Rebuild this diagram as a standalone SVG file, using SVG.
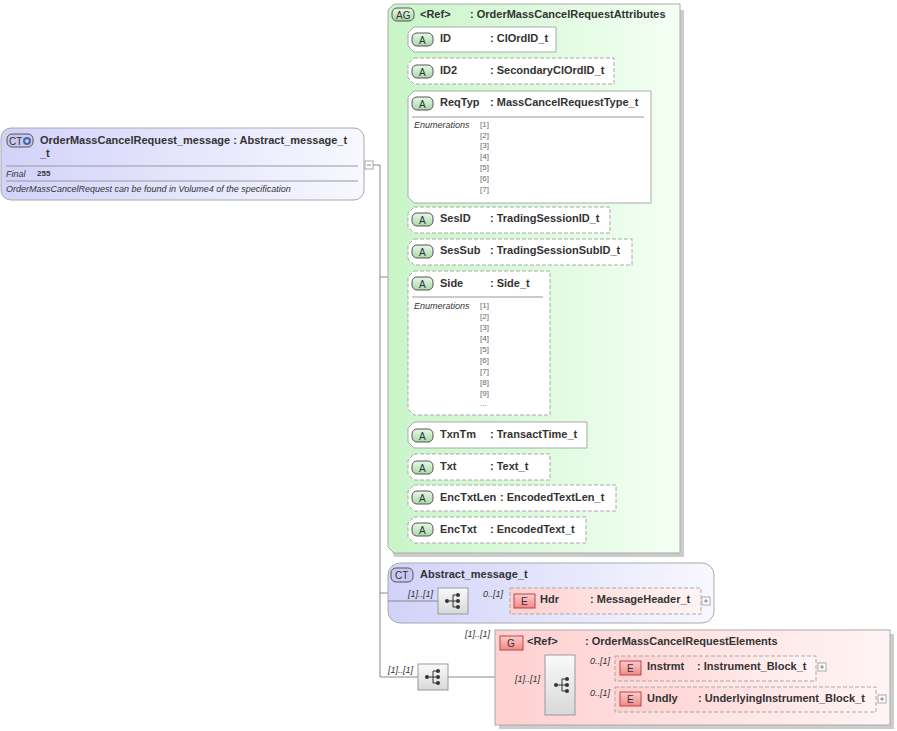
<svg xmlns="http://www.w3.org/2000/svg" width="897" height="731" viewBox="0 0 897 731">
<defs>
<linearGradient id="gG" x1="0" y1="0" x2="1" y2="0"><stop offset="0" stop-color="#c8f5c8"/><stop offset="1" stop-color="#f4fff4"/></linearGradient>
<linearGradient id="gB" x1="0" y1="0" x2="1" y2="0"><stop offset="0" stop-color="#d2d2fa"/><stop offset="1" stop-color="#f8f8ff"/></linearGradient>
<linearGradient id="gR" x1="0" y1="0" x2="1" y2="0"><stop offset="0" stop-color="#ffd0d0"/><stop offset="1" stop-color="#fff4f4"/></linearGradient>
<linearGradient id="gS" x1="0" y1="0" x2="0" y2="1"><stop offset="0" stop-color="#fafafa"/><stop offset="1" stop-color="#d8d8d8"/></linearGradient>
<linearGradient id="gA" x1="0" y1="0" x2="0" y2="1"><stop offset="0" stop-color="#e8f8e8"/><stop offset="1" stop-color="#a8d8a8"/></linearGradient>
<linearGradient id="gE" x1="0" y1="0" x2="0" y2="1"><stop offset="0" stop-color="#ffcccc"/><stop offset="1" stop-color="#f08888"/></linearGradient>
<g id="icon"><circle cx="9" cy="13" r="2" fill="#333"/><path d="M11 13H15M15 7V19M15 7H19M15 13H19M15 19H19" stroke="#333" fill="none"/><circle cx="20" cy="7" r="2" fill="#333"/><circle cx="20" cy="13" r="2" fill="#333"/><circle cx="20" cy="19" r="2" fill="#333"/></g>
<g id="seq"><rect x="0" y="0" width="30" height="26" fill="url(#gS)" stroke="#999"/><use href="#icon"/></g>
<g id="plus"><rect x="0" y="0" width="8" height="8" fill="#fff" stroke="#aaa"/><path d="M2 4H6M4 2V6" stroke="#888"/></g>
</defs>
<style>
text{font-family:"Liberation Sans",Arial,sans-serif;font-size:11px;fill:#333}
.b{font-weight:bold}
.i{font-style:italic;font-size:9px}
.e{font-size:8px;fill:#666}
.c{fill:none;stroke:#888;stroke-width:1}
.at{fill:#fff;stroke:#aaa}
.d{stroke-dasharray:4,2}
.ab{fill:url(#gA);stroke:#555}
.eb{fill:url(#gE);stroke:#b44}
.bl{font-size:10px;fill:#333}
</style>
<g id="connectors">
<path class="c" d="M373 165H380V677M380 277H388M380 593H438M380 677H418M447 677H545M468 601H510M575 668H615M575 700H615"/>
<path class="c" d="M398 39V529M398 39H408M398 71H408M398 147H408M398 219H408M398 251H408M398 343H408M398 435H408M398 467H408M398 497H408M398 529H408"/>
</g>
<g id="main">
<rect x="1" y="128" width="363" height="72" rx="10" fill="url(#gB)" stroke="#aaa"/>
<rect x="7" y="134" width="26" height="13" rx="5" fill="#c8c8f0" stroke="#555"/>
<text x="9" y="145" class="bl">CT</text><circle cx="27" cy="141" r="4" fill="#4a6ab0"/><path d="M25 141H29M27 139V143" stroke="#fff"/>
<text x="40" y="144" class="b">OrderMassCancelRequest_message : Abstract_message_t</text>
<text x="40" y="157" class="b">_t</text>
<path d="M6 166H358M6 181H358" stroke="#999"/>
<text x="6" y="177" class="i">Final</text><text x="37" y="176" class="b" style="font-size:8px">255</text>
<text x="6" y="192" class="i">OrderMassCancelRequest can be found in Volume4 of the specification</text>
<rect x="365" y="161" width="8" height="8" fill="#fff" stroke="#aaa"/><path d="M367 165H371" stroke="#888"/>
</g>
<g id="attrGroup">
<path d="M394 10H684V557H394L392 551V16Z" fill="#ccc"/>
<path d="M394 4H680V553H394L388 547V10Z" fill="url(#gG)" stroke="#aaa"/>
<rect x="392" y="8" width="22" height="13" rx="5" class="ab"/><text x="396" y="19" class="bl">AG</text>
<text x="420" y="18" class="b">&lt;Ref&gt;</text><text x="470" y="18" class="b">: OrderMassCancelRequestAttributes</text>
</g>
<g id="a-ID"><path class="at" d="M414 27H556V52H414L408 46V33Z"/><rect x="412" y="33" width="21" height="13" rx="5" class="ab"/><text x="419" y="44" class="bl">A</text><text x="440" y="42" class="b">ID</text><text x="490" y="42" class="b">: ClOrdID_t</text></g>
<g id="a-ID2"><path class="at d" d="M414 58H614V84H414L408 78V64Z"/><rect x="412" y="65" width="21" height="13" rx="5" class="ab"/><text x="419" y="76" class="bl">A</text><text x="440" y="74" class="b">ID2</text><text x="490" y="74" class="b">: SecondaryClOrdID_t</text></g>
<g id="a-ReqTyp"><path class="at" d="M414 91H651V203H414L408 197V97Z"/><rect x="412" y="97" width="21" height="13" rx="5" class="ab"/><text x="419" y="108" class="bl">A</text><text x="440" y="106" class="b">ReqTyp</text><text x="490" y="106" class="b">: MassCancelRequestType_t</text>
<path d="M412 117H644" stroke="#999"/><text x="414" y="128" class="i">Enumerations</text>
<text class="e" x="480" y="127">[1]</text><text class="e" x="480" y="138">[2]</text><text class="e" x="480" y="148">[3]</text><text class="e" x="480" y="159">[4]</text><text class="e" x="480" y="170">[5]</text><text class="e" x="480" y="181">[6]</text><text class="e" x="480" y="192">[7]</text></g>
<g id="a-SesID"><path class="at d" d="M414 207H610V233H414L408 227V213Z"/><rect x="412" y="213" width="21" height="13" rx="5" class="ab"/><text x="419" y="224" class="bl">A</text><text x="440" y="222" class="b">SesID</text><text x="490" y="222" class="b">: TradingSessionID_t</text></g>
<g id="a-SesSub"><path class="at d" d="M414 239H632V265H414L408 259V245Z"/><rect x="412" y="245" width="21" height="13" rx="5" class="ab"/><text x="419" y="256" class="bl">A</text><text x="440" y="254" class="b">SesSub</text><text x="490" y="254" class="b">: TradingSessionSubID_t</text></g>
<g id="a-Side"><path class="at d" d="M414 271H550V415H414L408 409V277Z"/><rect x="412" y="277" width="21" height="13" rx="5" class="ab"/><text x="419" y="288" class="bl">A</text><text x="440" y="287" class="b">Side</text><text x="490" y="287" class="b">: Side_t</text>
<path d="M412 297H543" stroke="#999"/><text x="414" y="309" class="i">Enumerations</text>
<text class="e" x="480" y="308">[1]</text><text class="e" x="480" y="319">[2]</text><text class="e" x="480" y="330">[3]</text><text class="e" x="480" y="341">[4]</text><text class="e" x="480" y="352">[5]</text><text class="e" x="480" y="363">[6]</text><text class="e" x="480" y="374">[7]</text><text class="e" x="480" y="385">[8]</text><text class="e" x="480" y="396">[9]</text><text class="e" x="480" y="406">...</text></g>
<g id="a-TxnTm"><path class="at" d="M414 422H587V448H414L408 442V428Z"/><rect x="412" y="429" width="21" height="13" rx="5" class="ab"/><text x="419" y="440" class="bl">A</text><text x="440" y="438" class="b">TxnTm</text><text x="490" y="438" class="b">: TransactTime_t</text></g>
<g id="a-Txt"><path class="at d" d="M414 454H550V480H414L408 474V460Z"/><rect x="412" y="461" width="21" height="13" rx="5" class="ab"/><text x="419" y="472" class="bl">A</text><text x="440" y="470" class="b">Txt</text><text x="490" y="470" class="b">: Text_t</text></g>
<g id="a-EncTxtLen"><path class="at d" d="M414 485H616V511H414L408 505V491Z"/><rect x="412" y="491" width="21" height="13" rx="5" class="ab"/><text x="419" y="502" class="bl">A</text><text x="440" y="501" class="b">EncTxtLen</text><text x="500" y="501" class="b">: EncodedTextLen_t</text></g>
<g id="a-EncTxt"><path class="at d" d="M414 517H586V543H414L408 537V523Z"/><rect x="412" y="523" width="21" height="13" rx="5" class="ab"/><text x="419" y="534" class="bl">A</text><text x="440" y="533" class="b">EncTxt</text><text x="490" y="533" class="b">: EncodedText_t</text></g>
<g id="abstract">
<rect x="388" y="563" width="326" height="60" rx="12" fill="url(#gB)" stroke="#aaa"/>
<rect x="391" y="568" width="22" height="14" rx="5" fill="#c8c8f0" stroke="#555"/><text x="395" y="579" class="bl">CT</text>
<text x="420" y="578" class="b">Abstract_message_t</text>
<path class="c" d="M388 601H438"/>
<text x="408" y="597" class="i">[1]..[1]</text>
<use href="#seq" x="438" y="588"/>
<text x="483" y="597" class="i">0..[1]</text>
</g>
<g id="e-Hdr"><rect x="510" y="588" width="191" height="26" fill="url(#gR)" stroke="#aaa" class="d"/><rect x="514" y="594" width="21" height="14" class="eb"/><text x="521" y="605" class="bl">E</text><text x="540" y="603" class="b">Hdr</text><text x="590" y="603" class="b">: MessageHeader_t</text><use href="#plus" x="702" y="597"/></g>
<g id="seqOuter"><text x="388" y="673" class="i">[1]..[1]</text><use href="#seq" x="418" y="664"/></g>
<g id="elemGroup">
<rect x="499" y="634" width="395" height="95" fill="#ccc"/>
<rect x="495" y="630" width="395" height="95" fill="url(#gR)" stroke="#aaa"/>
<text x="465" y="637" class="i">[1]..[1]</text>
<rect x="500" y="636" width="23" height="14" class="eb"/><text x="507" y="647" class="bl">G</text>
<text x="527" y="645" class="b">&lt;Ref&gt;</text><text x="585" y="645" class="b">: OrderMassCancelRequestElements</text>
<text x="515" y="682" class="i">[1]..[1]</text>
<rect x="545" y="655" width="30" height="60" fill="url(#gS)" stroke="#999"/>
<use href="#icon" x="547" y="672"/>
<text x="590" y="664" class="i">0..[1]</text><text x="590" y="696" class="i">0..[1]</text>
</g>
<g id="e-Instrmt"><rect x="615" y="656" width="201" height="25" fill="url(#gR)" stroke="#aaa" class="d"/><rect x="620" y="661" width="21" height="14" class="eb"/><text x="627" y="672" class="bl">E</text><text x="647" y="670" class="b">Instrmt</text><text x="697" y="670" class="b">: Instrument_Block_t</text><use href="#plus" x="818" y="663"/></g>
<g id="e-Undly"><rect x="615" y="687" width="261" height="25" fill="url(#gR)" stroke="#aaa" class="d"/><rect x="620" y="692" width="21" height="14" class="eb"/><text x="627" y="703" class="bl">E</text><text x="647" y="702" class="b">Undly</text><text x="698" y="702" class="b">: UnderlyingInstrument_Block_t</text><use href="#plus" x="878" y="695"/></g>
</svg>
